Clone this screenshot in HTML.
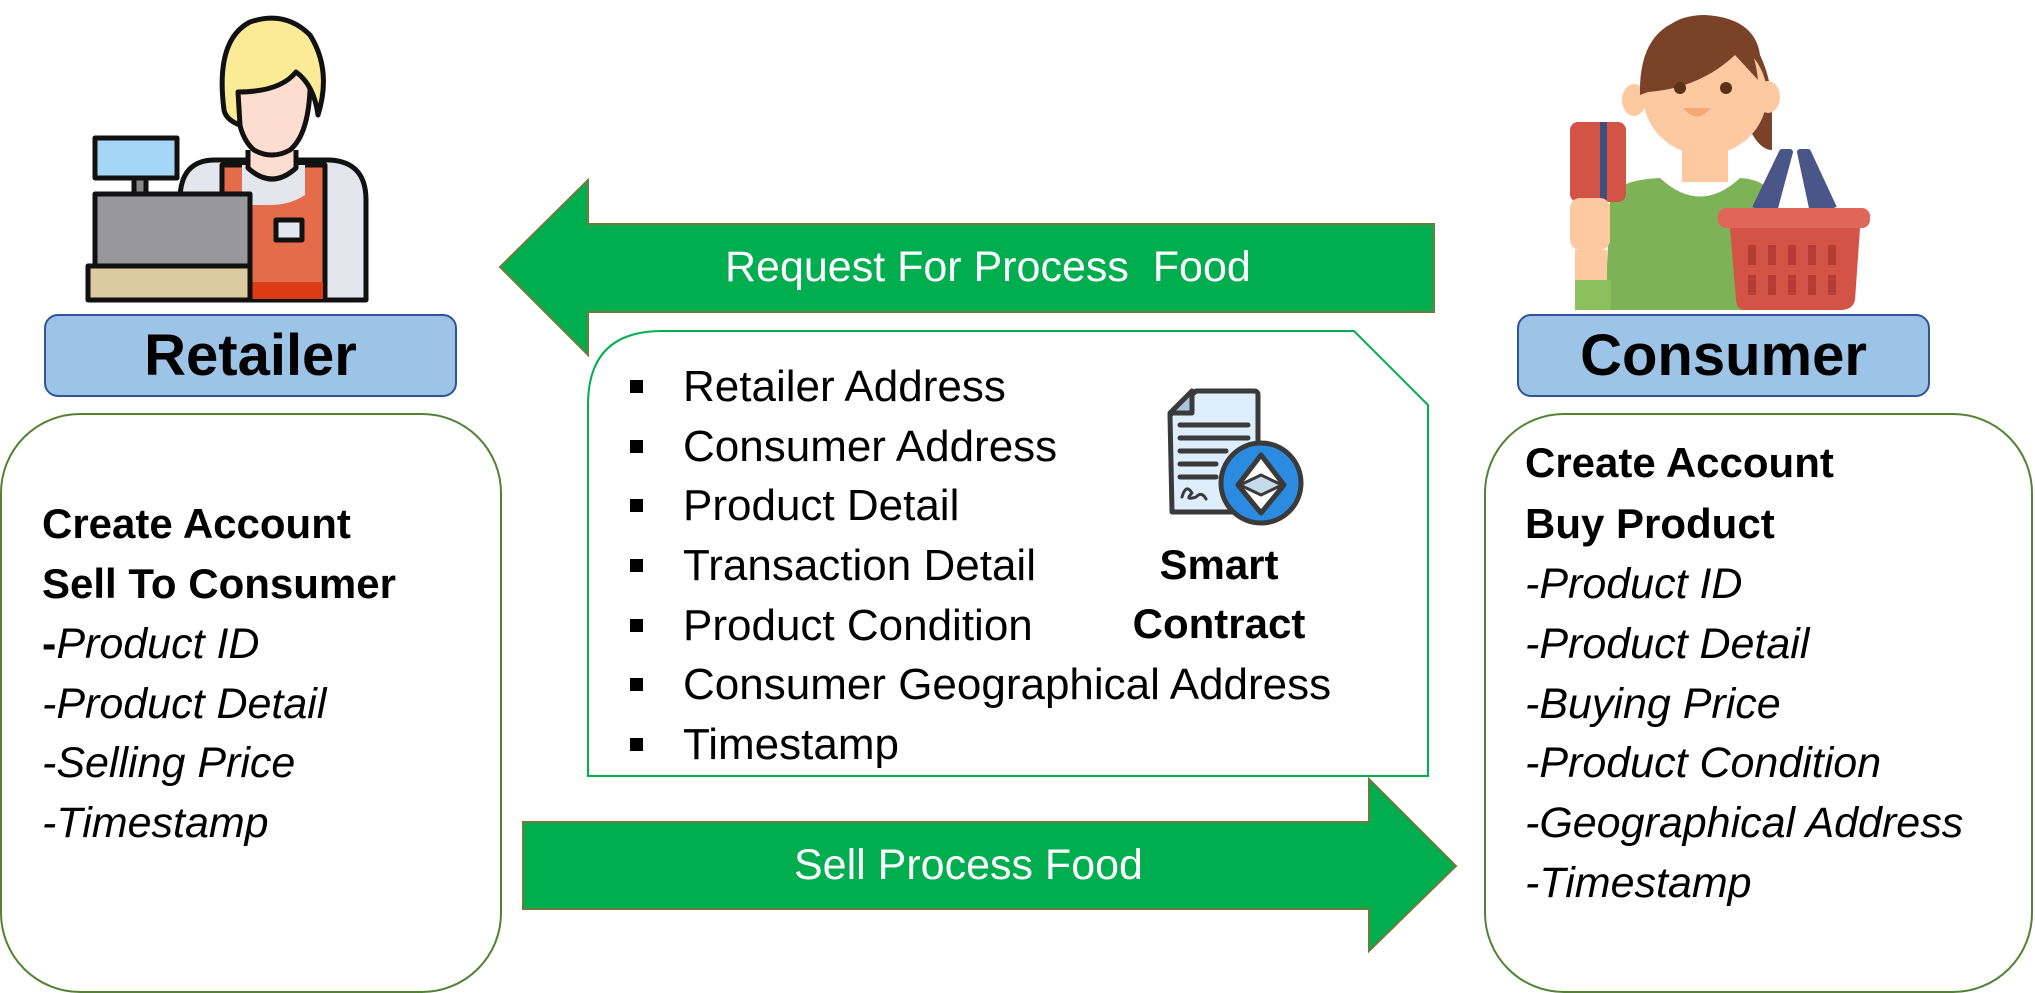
<!DOCTYPE html>
<html><head><meta charset="utf-8"><style>
html,body{margin:0;padding:0;background:#fff;}
body{width:2035px;height:993px;position:relative;overflow:hidden;font-family:"Liberation Sans",sans-serif;}
.t{position:absolute;white-space:nowrap;}
.lbl{position:absolute;background:#9dc3e6;border:2px solid #2f5597;border-radius:14px;box-sizing:border-box;display:flex;align-items:center;justify-content:center;font-weight:bold;font-size:58px;color:#000;}
.box{position:absolute;border:2px solid #548235;border-radius:80px;box-sizing:border-box;background:#fff;}
.ln{position:absolute;font-size:42px;line-height:60px;white-space:nowrap;color:#000;}
.b{font-weight:bold;}
.i{font-style:italic;font-size:43px;}
.m{font-size:44px;}
.bl{position:absolute;width:13px;height:13px;background:#000;}
</style></head><body>
<svg width="2035" height="993" style="position:absolute;left:0;top:0">
  <polygon points="500,267 588,180 588,224 1434,224 1434,312 588,312 588,355" fill="#00ad4f" stroke="#6b7d3a" stroke-width="2"/>
  <polygon points="523,822 1369,822 1369,779 1456,866 1369,951 1369,909 523,909" fill="#00ad4f" stroke="#6b7d3a" stroke-width="2"/>
  <path d="M588,776 L588,405 Q588,331 662,331 L1354,331 L1428,405 L1428,776 Z" fill="#fff" stroke="#00b050" stroke-width="2"/>
  <g stroke="#3a3a3a" stroke-width="5" stroke-linejoin="round" stroke-linecap="round">
    <path d="M1196,391 L1254,391 Q1258,391 1258,395 L1258,512 L1172,512 L1170,415 Z" fill="#dfeefc"/>
    <path d="M1170,413 L1192,391 L1192,413 Z" fill="#a9c4dc"/>
    <line x1="1180" y1="425" x2="1248" y2="425"/>
    <line x1="1180" y1="438" x2="1248" y2="438"/>
    <line x1="1180" y1="451" x2="1226" y2="451"/>
    <line x1="1180" y1="464" x2="1216" y2="464"/>
    <line x1="1180" y1="477" x2="1216" y2="477"/>
    <path d="M1182,497 q4,-14 10,-4 q-8,8 4,4 q6,-6 10,2" fill="none" stroke-width="3"/>
    <circle cx="1261" cy="483" r="40" fill="#2b8be0"/>
    <path d="M1261,455 L1284,485 L1261,513 L1238,485 Z" fill="#fff"/>
    <path d="M1240,485 L1261,475 L1282,485 L1261,495 Z" fill="#c5dbea" stroke-width="3"/>
  </g>
  <!-- retailer icon -->
  <g stroke="#111" stroke-width="5" stroke-linejoin="round">
    <path d="M180,300 L180,200 Q180,160 215,160 L330,160 Q366,162 366,200 L366,300 Z" fill="#e3e6ec"/>
    <path d="M222,165 L325,165 L325,300 L222,300 Z" fill="#e56c4a"/>
    <path d="M242,165 L305,165 L305,195 Q290,205 270,205 L242,205 Z" fill="#e3e6ec" stroke="none"/>
    <rect x="224" y="282" width="99" height="17" fill="#dd3b14" stroke="none"/>
    <rect x="276" y="220" width="26" height="20" fill="#e3e6ec"/>
    <path d="M248,150 L248,168 Q272,190 296,168 L296,150" fill="#fdddd0"/>
    <path d="M236,90 Q236,55 272,55 Q310,55 310,90 Q308,135 290,150 Q272,160 254,150 Q236,135 236,90 Z" fill="#fdddd0"/>
    <path d="M224,110 Q215,40 250,22 Q285,10 310,35 Q332,70 318,115 Q314,85 296,72 Q280,92 238,92 L240,125 Q226,120 224,110 Z" fill="#fbeb96"/>
    <rect x="95" y="138" width="82" height="40" fill="#a5d6f6"/>
    <rect x="134" y="178" width="12" height="16" fill="#888"/>
    <rect x="95" y="194" width="155" height="72" fill="#97979c"/>
    <rect x="88" y="266" width="162" height="34" fill="#dccaa0"/>
  </g>
  <!-- consumer icon -->
  <g>
    <path d="M1650,90 Q1645,15 1705,15 Q1755,18 1760,55 Q1772,80 1772,110 L1772,150 Q1760,150 1750,130 Z" fill="#7a4329"/>
    <rect x="1682" y="140" width="46" height="42" fill="#fdc9a0"/>
    <ellipse cx="1634" cy="100" rx="12" ry="16" fill="#fdc9a0"/>
    <ellipse cx="1768" cy="97" rx="12" ry="16" fill="#fdc9a0"/>
    <ellipse cx="1705" cy="95" rx="62" ry="60" fill="#fdc9a0"/>
    <path d="M1640,95 Q1638,18 1705,16 Q1752,20 1758,80 L1735,55 Q1700,88 1648,92 Z" fill="#7a4329"/>
    <circle cx="1680" cy="88" r="6" fill="#5a3218"/>
    <circle cx="1726" cy="88" r="6" fill="#5a3218"/>
    <path d="M1683,108 Q1697,125 1711,108 Z" fill="#f5a77a"/>
    <path d="M1605,310 L1610,200 Q1615,180 1660,178 Q1700,215 1740,178 Q1775,180 1775,210 L1780,310 Z" fill="#7db356"/>
    <rect x="1570" y="122" width="56" height="80" rx="8" fill="#d45347"/>
    <rect x="1600" y="122" width="7" height="80" fill="#3f4e7d"/>
    <rect x="1570" y="198" width="40" height="52" rx="10" fill="#fdc9a0"/>
    <rect x="1575" y="250" width="32" height="30" fill="#fdc9a0"/>
    <rect x="1575" y="280" width="36" height="30" fill="#8cc05c"/>
    <path d="M1755,208 L1782,152 L1790,152 L1775,208 M1812,208 L1800,152 L1808,152 L1834,208" fill="#4a5688" stroke="#4a5688" stroke-width="6" stroke-linejoin="round"/>
    <rect x="1718" y="208" width="152" height="20" rx="8" fill="#e0665a"/>
    <path d="M1730,228 L1860,228 L1855,300 Q1853,310 1840,310 L1745,310 Q1737,310 1736,300 Z" fill="#d45347"/>
    <g fill="#b83c33">
      <rect x="1748" y="245" width="8" height="20"/><rect x="1768" y="245" width="8" height="20"/><rect x="1788" y="245" width="8" height="20"/><rect x="1808" y="245" width="8" height="20"/><rect x="1828" y="245" width="8" height="20"/>
      <rect x="1748" y="275" width="8" height="20"/><rect x="1768" y="275" width="8" height="20"/><rect x="1788" y="275" width="8" height="20"/><rect x="1808" y="275" width="8" height="20"/><rect x="1828" y="275" width="8" height="20"/>
    </g>
  </g>
</svg>

<div class="lbl" style="left:44px;top:314px;width:413px;height:83px;">Retailer</div>
<div class="lbl" style="left:1517px;top:314px;width:413px;height:83px;">Consumer</div>

<div class="box" style="left:0;top:413px;width:502px;height:580px;"></div>
<div class="box" style="left:1484px;top:413px;width:549px;height:580px;"></div>

<div class="t" style="left:725px;top:242px;font-size:43px;color:#fff;line-height:50px;">Request For Process&nbsp; Food</div>
<div class="t" style="left:794px;top:840px;font-size:43px;color:#fff;line-height:50px;">Sell Process Food</div>

<div class="ln b" style="left:42px;top:494px;">Create Account</div>
<div class="ln b" style="left:42px;top:554px;">Sell To Consumer</div>
<div class="ln i" style="left:42px;top:614px;"><b style="font-style:normal">-</b>Product ID</div>
<div class="ln i" style="left:42px;top:674px;">-Product Detail</div>
<div class="ln i" style="left:42px;top:733px;">-Selling Price</div>
<div class="ln i" style="left:42px;top:793px;">-Timestamp</div>

<div class="ln b" style="left:1525px;top:433px;">Create Account</div>
<div class="ln b" style="left:1525px;top:494px;">Buy Product</div>
<div class="ln i" style="left:1525px;top:554px;">-Product ID</div>
<div class="ln i" style="left:1525px;top:614px;">-Product Detail</div>
<div class="ln i" style="left:1525px;top:674px;">-Buying Price</div>
<div class="ln i" style="left:1525px;top:733px;">-Product Condition</div>
<div class="ln i" style="left:1525px;top:793px;">-Geographical Address</div>
<div class="ln i" style="left:1525px;top:853px;">-Timestamp</div>

<div class="bl" style="left:630px;top:380px"></div><div class="ln m" style="left:683px;top:357px;">Retailer Address</div>
<div class="bl" style="left:630px;top:440px"></div><div class="ln m" style="left:683px;top:417px;">Consumer Address</div>
<div class="bl" style="left:630px;top:499px"></div><div class="ln m" style="left:683px;top:476px;">Product Detail</div>
<div class="bl" style="left:630px;top:559px"></div><div class="ln m" style="left:683px;top:536px;">Transaction Detail</div>
<div class="bl" style="left:630px;top:619px"></div><div class="ln m" style="left:683px;top:596px;">Product Condition</div>
<div class="bl" style="left:630px;top:678px"></div><div class="ln m" style="left:683px;top:655px;">Consumer Geographical Address</div>
<div class="bl" style="left:630px;top:738px"></div><div class="ln m" style="left:683px;top:715px;">Timestamp</div>

<div class="ln b" style="left:1120px;top:535px;width:198px;text-align:center;">Smart</div>
<div class="ln b" style="left:1100px;top:594px;width:238px;text-align:center;">Contract</div>
</body></html>
